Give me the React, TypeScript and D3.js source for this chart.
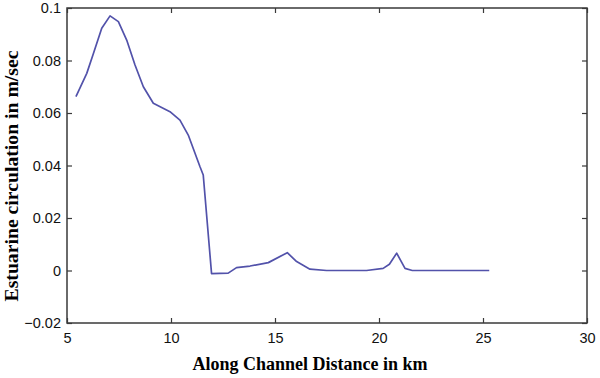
import React, { useEffect, useRef } from 'react';
import * as d3 from 'd3';

// along-channel distance (km) and estuarine circulation (m/s)
const distanceKm = [5.43, 5.95, 6.27, 6.67, 7.07, 7.47, 7.87, 8.27, 8.67, 9.15, 9.95, 10.43, 10.83, 11.39, 11.55, 11.95, 12.75, 13.15, 13.8, 14.68, 15.59, 16.04, 16.68, 17.48, 19.4, 20.2, 20.5, 20.85, 21.25, 21.6, 25.3];
const circulation = [0.0662, 0.0751, 0.0827, 0.0923, 0.097, 0.0948, 0.0878, 0.0783, 0.070, 0.0637, 0.0605, 0.0573, 0.0516, 0.0396, 0.0364, -0.0012, -0.001, 0.0011, 0.0017, 0.003, 0.0068, 0.0034, 0.0005, 0.0, 0.0, 0.0008, 0.0024, 0.0066, 0.0008, 0.0, 0.0];
const xTicks = [5, 10, 15, 20, 25, 30];
const yTicks = [-0.02, 0, 0.02, 0.04, 0.06, 0.08, 0.1];

export default function App() {
    const ref = useRef<SVGSVGElement>(null);

    useEffect(() => {
        const totalWidth = 600;
        const totalHeight = 378;
        const margin = { top: 8, right: 13, bottom: 55, left: 67 };
        const width = totalWidth - margin.left - margin.right;
        const height = totalHeight - margin.top - margin.bottom;

        const root = d3.select(ref.current);
        root.selectAll('*').remove();
        root.attr('width', totalWidth).attr('height', totalHeight);

        const svg = root.append('g')
            .attr('transform', `translate(${margin.left},${margin.top})`);

        const xScale = d3.scaleLinear().domain([5, 30]).range([0, width]);
        const yScale = d3.scaleLinear().domain([-0.02, 0.1]).range([height, 0]);

        const axisColor = '#3a3a3a';
        const tickFont = '"Liberation Sans", Arial, sans-serif';
        const titleFont = '"Liberation Serif", "Times New Roman", serif';

        // frame
        svg.append('rect')
            .attr('width', width).attr('height', height)
            .attr('fill', 'white').attr('stroke', axisColor).attr('stroke-width', 1.5);

        const styleAxis = (g: any) => {
            g.select('.domain').remove();
            g.selectAll('line').attr('stroke', axisColor).attr('stroke-width', 1.2);
            g.selectAll('text').style('font-family', tickFont).style('font-size', '14.5px').attr('fill', '#111');
        };

        svg.append('g')
            .attr('transform', `translate(0,${height})`)
            .call(d3.axisBottom(xScale).tickValues(xTicks).tickSize(-5).tickPadding(10).tickFormat(d3.format('d')))
            .call(styleAxis);
        svg.append('g')
            .call(d3.axisTop(xScale).tickValues(xTicks).tickSize(-5).tickFormat(() => ''))
            .call(styleAxis);
        svg.append('g')
            .call(d3.axisLeft(yScale).tickValues(yTicks).tickSize(-5).tickPadding(6).tickFormat(d => d3.format('')(+(+d).toFixed(2))))
            .call(styleAxis);
        svg.append('g')
            .attr('transform', `translate(${width},0)`)
            .call(d3.axisRight(yScale).tickValues(yTicks).tickSize(-5).tickFormat(() => ''))
            .call(styleAxis);

        const line = d3.line<number>()
            .x((d, i) => xScale(distanceKm[i]))
            .y(d => yScale(d));

        svg.append('path')
            .datum(circulation)
            .attr('fill', 'none')
            .attr('stroke', '#5252aa')
            .attr('stroke-width', 1.7)
            .attr('stroke-linejoin', 'round')
            .attr('d', line);

        root.append('text')
            .attr('text-anchor', 'middle')
            .attr('x', 310)
            .attr('y', 370)
            .text('Along Channel Distance in km')
            .style('font-family', titleFont)
            .style('font-weight', 'bold')
            .style('font-size', '18px');

        root.append('text')
            .attr('text-anchor', 'middle')
            .attr('transform', 'rotate(-90)')
            .attr('x', -176)
            .attr('y', 18)
            .attr('textLength', 251)
            .attr('lengthAdjust', 'spacingAndGlyphs')
            .text('Estuarine circulation in m/sec')
            .style('font-family', titleFont)
            .style('font-weight', 'bold')
            .style('font-size', '19px');
    }, []);

    return (
        <svg ref={ref} style={{ position: 'absolute', left: 0, top: 0 }} />
    );
}
